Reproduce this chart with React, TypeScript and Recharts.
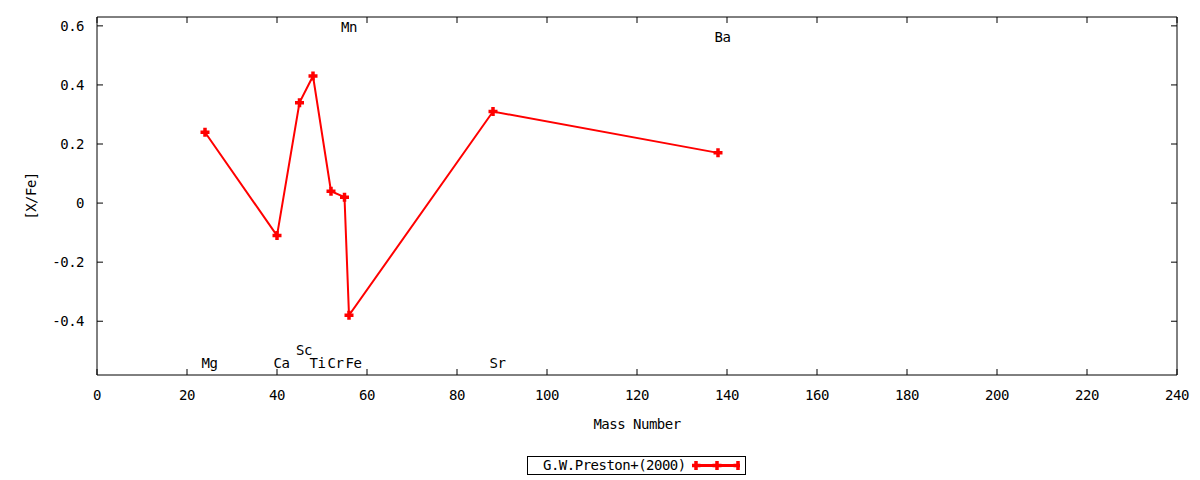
import React from 'react';
import { ComposedChart, Line, Scatter, XAxis, YAxis, Legend } from 'recharts';

const FONT = '"DejaVu Sans Mono", monospace';
const FS = 14;
const LS = -0.5;
const RED = '#ff0000';

// abundance ratios
const elements = ['Mg', 'Ca', 'Sc', 'Ti', 'Cr', 'Mn', 'Fe', 'Sr', 'Ba'];
const massNumbers = [24, 40, 45, 48, 52, 55, 56, 88, 138];
const xFe = [0.24, -0.11, 0.34, 0.43, 0.04, 0.02, -0.38, 0.31, 0.17];

// where each element name sits (x in mass units, y in [X/Fe] units)
const labelMass = [25, 41, 46, 49, 53, 56, 57, 89, 139];
const labelLevel = [-0.543, -0.543, -0.497, -0.543, -0.543, 0.597, -0.543, -0.543, 0.563];

const xTicks = [0, 20, 40, 60, 80, 100, 120, 140, 160, 180, 200, 220, 240];
const yTicks = [-0.4, -0.2, 0, 0.2, 0.4, 0.6];
const xDomain: [number, number] = [0, 240];
const yDomain: [number, number] = [-0.582, 0.63];

const points = massNumbers.map((m, i) => ({ mass: m, value: xFe[i] }));
const labels = elements.map((name, i) => ({ mass: labelMass[i], level: labelLevel[i], name }));

const plusPath = (cx: number, cy: number, r = 4.5, t = 1.75) =>
  `M${cx - r},${cy - t}H${cx - t}V${cy - r}H${cx + t}V${cy - t}H${cx + r}V${cy + t}H${cx + t}V${cy + r}H${cx - t}V${cy + t}H${cx - r}Z`;

const PlusDot = (props: any) => {
  const { cx, cy, index } = props;
  if (cx == null || cy == null) return null;
  return <path key={`p-${index}`} d={plusPath(cx, cy)} fill={RED} />;
};

const ElementName = (props: any) => {
  const { cx, cy, payload } = props;
  if (cx == null || cy == null) return null;
  return (
    <text
      x={cx}
      y={cy}
      dy="0.35em"
      textAnchor="middle"
      fontFamily={FONT}
      fontSize={FS}
      letterSpacing={LS}
      fill="#000"
    >
      {payload.name}
    </text>
  );
};

// ticks drawn only as marks, no text
const NoLabel = () => <g />;

const LegendBox = () => (
  <div
    style={{
      position: 'relative',
      width: 219,
      height: 19,
      border: '1px solid #000',
      boxSizing: 'border-box',
      fontFamily: FONT,
      fontSize: FS,
      letterSpacing: LS,
      background: '#fff',
    }}
  >
    <span style={{ position: 'absolute', left: 15, top: 0, lineHeight: '17px', color: '#000' }}>
      G.W.Preston+(2000)
    </span>
    <svg width={48} height={17} style={{ position: 'absolute', left: 164, top: 0 }}>
      <line x1={4} y1={8.5} x2={46} y2={8.5} stroke={RED} strokeWidth={3} />
      <path d={plusPath(4, 8.5)} fill={RED} />
      <path d={plusPath(25, 8.5)} fill={RED} />
      <path d={plusPath(46, 8.5)} fill={RED} />
    </svg>
  </div>
);

const tickStyle = { fill: '#000', fontSize: FS, fontFamily: FONT, letterSpacing: LS };
const black = { stroke: '#000', strokeWidth: 1 };

export default function App() {
  return (
    <div style={{ position: 'absolute', left: 0, top: 0, background: '#fff' }}>
      <ComposedChart width={1200} height={480} margin={{ top: 17, right: 23, left: 0, bottom: 75 }}>
        <XAxis
          xAxisId="main"
          type="number"
          dataKey="mass"
          domain={xDomain}
          ticks={xTicks}
          interval={0}
          allowDataOverflow
          height={30}
          tickLine={false}
          tickSize={0}
          tickMargin={15}
          axisLine={black}
          tick={tickStyle}
          label={{
            value: 'Mass Number',
            position: 'bottom',
            offset: 14,
            fill: '#000',
            fontSize: FS,
            fontFamily: FONT,
            letterSpacing: LS,
          }}
        />
        <XAxis
          xAxisId="bottomTicks"
          type="number"
          dataKey="mass"
          domain={xDomain}
          ticks={xTicks}
          interval={0}
          allowDataOverflow
          mirror
          tick={NoLabel}
          tickSize={6}
          tickLine={black}
          axisLine={false}
        />
        <XAxis
          xAxisId="top"
          orientation="top"
          type="number"
          dataKey="mass"
          domain={xDomain}
          ticks={xTicks}
          interval={0}
          allowDataOverflow
          mirror
          tick={NoLabel}
          tickSize={6}
          tickLine={black}
          axisLine={black}
        />
        <YAxis
          yAxisId="main"
          type="number"
          domain={yDomain}
          ticks={yTicks}
          interval={0}
          allowDataOverflow
          width={97}
          tickLine={false}
          tickSize={0}
          tickMargin={13}
          axisLine={black}
          tick={tickStyle}
          label={{
            content: (p: any) => {
              const vb = p.viewBox || {};
              const cy = (vb.y ?? 17) + (vb.height ?? 358) / 2;
              return (
                <text
                  x={31}
                  y={cy}
                  dy="0.35em"
                  textAnchor="middle"
                  transform={`rotate(-90 31 ${cy})`}
                  fontFamily={FONT}
                  fontSize={FS}
                  letterSpacing={LS}
                  fill="#000"
                >
                  [X/Fe]
                </text>
              );
            },
          }}
        />
        <YAxis
          yAxisId="leftTicks"
          type="number"
          domain={yDomain}
          ticks={yTicks}
          interval={0}
          allowDataOverflow
          mirror
          tick={NoLabel}
          tickSize={6}
          tickLine={black}
          axisLine={false}
        />
        <YAxis
          yAxisId="right"
          orientation="right"
          type="number"
          domain={yDomain}
          ticks={yTicks}
          interval={0}
          allowDataOverflow
          mirror
          tick={NoLabel}
          tickSize={6}
          tickLine={black}
          axisLine={black}
        />
        <Line
          xAxisId="main"
          yAxisId="main"
          data={points}
          dataKey="value"
          name="G.W.Preston+(2000)"
          stroke={RED}
          strokeWidth={2}
          dot={PlusDot}
          activeDot={false}
          isAnimationActive={false}
        />
        <Scatter
          xAxisId="main"
          yAxisId="main"
          data={labels}
          dataKey="level"
          shape={ElementName}
          legendType="none"
          isAnimationActive={false}
        />
        <Legend
          layout="horizontal"
          verticalAlign="middle"
          align="center"
          wrapperStyle={{ left: 527, top: 456, width: 219, height: 19 }}
          content={() => <LegendBox />}
        />
      </ComposedChart>
    </div>
  );
}
